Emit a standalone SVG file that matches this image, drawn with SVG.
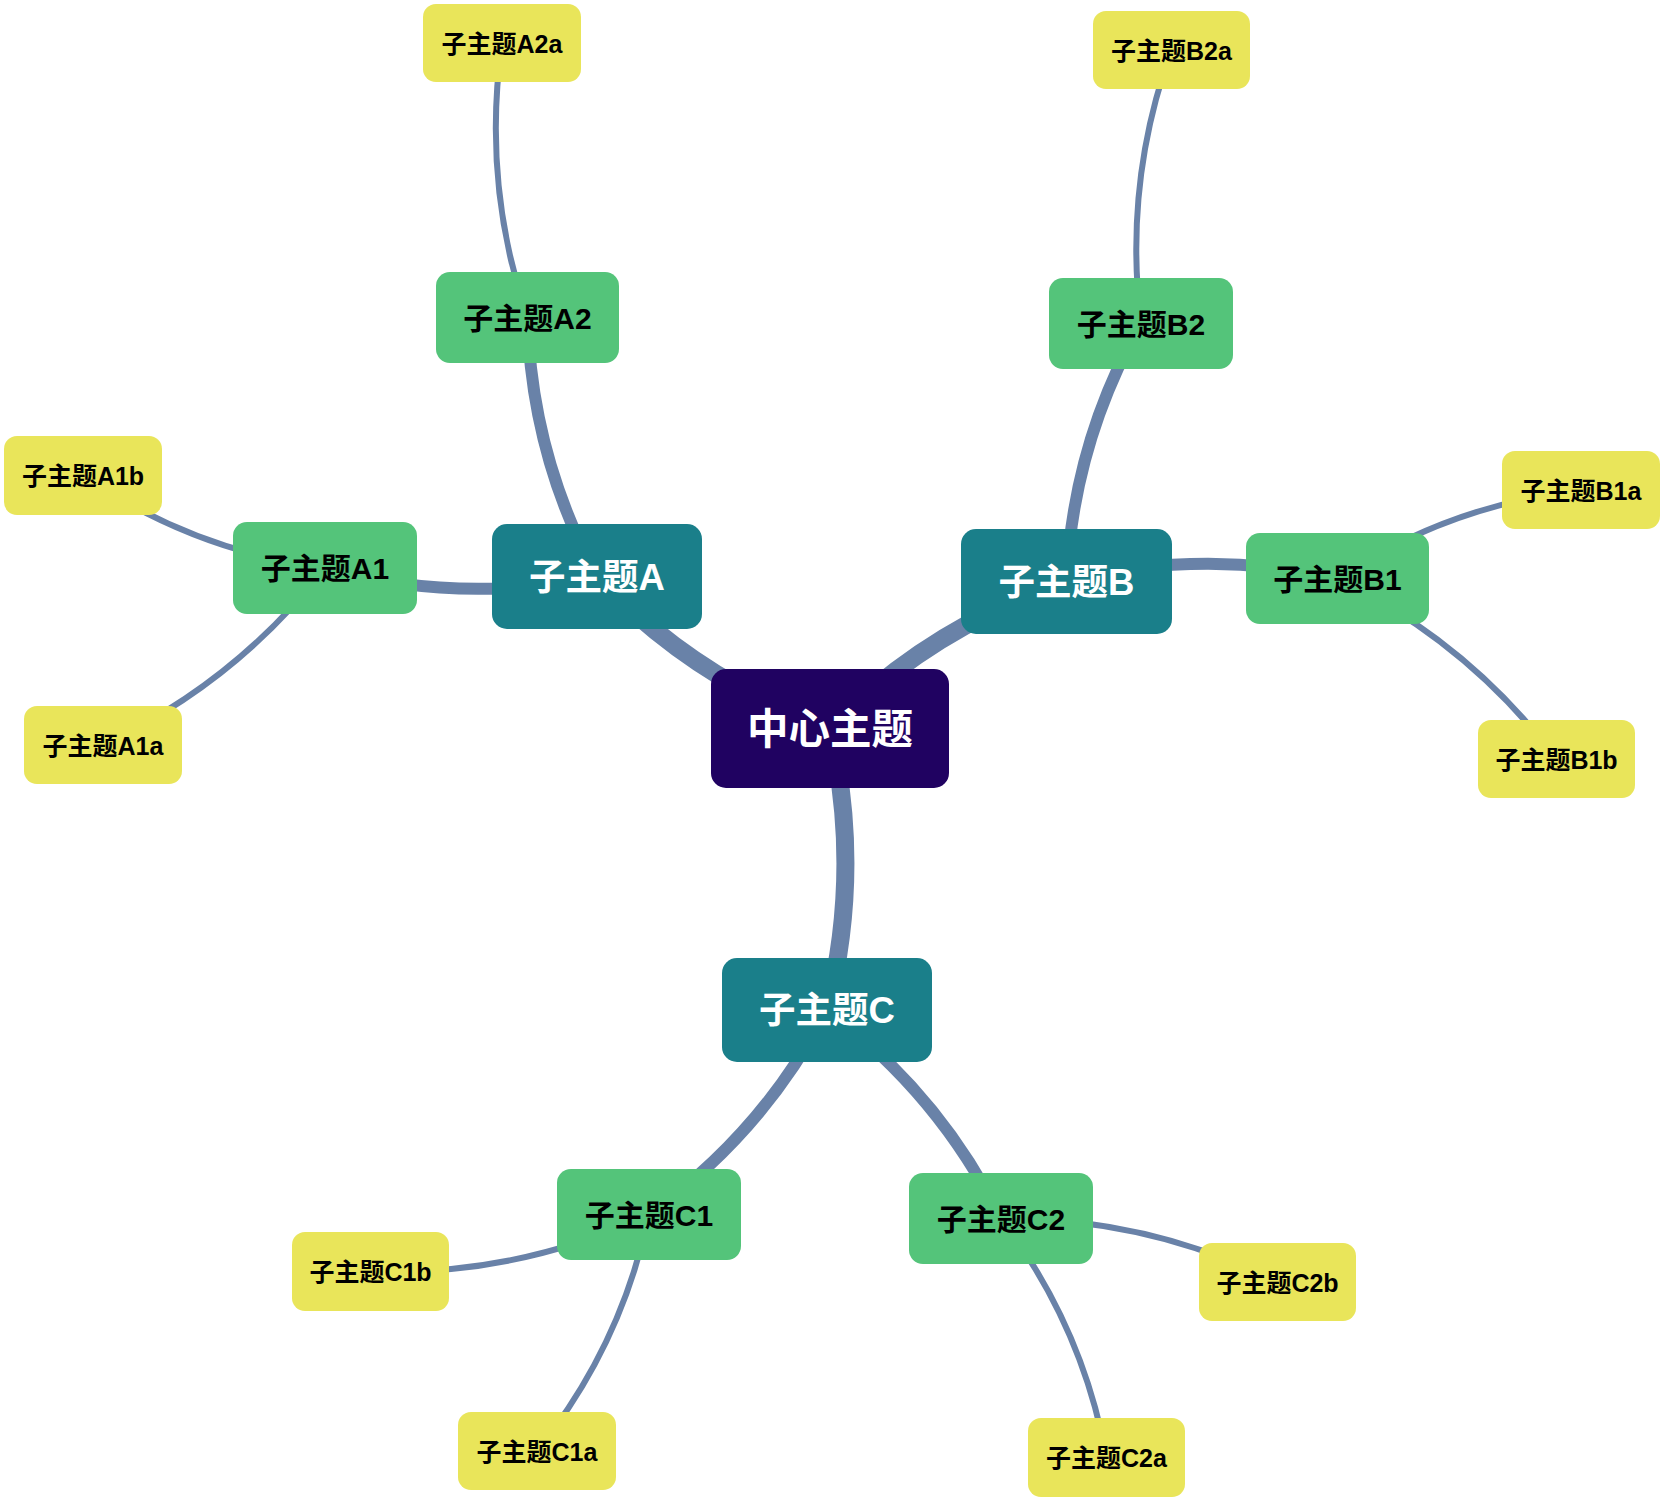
<svg xmlns="http://www.w3.org/2000/svg" width="1667" height="1502" viewBox="0 0 1667 1502">
<style>
  .edge { fill: none; stroke: #6982a8; stroke-linecap: butt; }
  .e0 { stroke-width: 18; }
  .e1 { stroke-width: 12; }
  .e2 { stroke-width: 6; }
  .n0 rect { fill: #200261; }
  .n1 rect { fill: #1a7f8a; }
  .n2 rect { fill: #54c47a; }
  .n3 rect { fill: #e9e55a; }
  text { font-family: "Liberation Sans", "Noto Sans CJK SC", sans-serif; font-weight: bold; text-anchor: middle; dominant-baseline: central; }
  .n0 text { fill: #ffffff; font-size: 41.5px; }
  .n1 text { fill: #ffffff; font-size: 36.5px; }
  .n2 text { fill: #000000; font-size: 30px; }
  .n3 text { fill: #000000; font-size: 25px; }
</style>
<g id="connectors">
  <path class="edge e0" d="M830,728.5 Q695.3,680.5 597,576.5"/>
  <path class="edge e0" d="M830,728.5 Q930.6,626.6 1066.5,581.5"/>
  <path class="edge e0" d="M830,728.5 Q862.3,869.6 827,1010"/>
  <path class="edge e1" d="M597,576.5 Q460,604.9 325,568"/>
  <path class="edge e1" d="M597,576.5 Q531.2,455.3 527.5,317.5"/>
  <path class="edge e1" d="M1066.5,581.5 Q1201.6,547.5 1337.5,578.5"/>
  <path class="edge e1" d="M1066.5,581.5 Q1072.8,443.6 1141,323.5"/>
  <path class="edge e1" d="M827,1010 Q762.5,1133.6 649,1214.5"/>
  <path class="edge e1" d="M827,1010 Q939,1093.4 1001,1218.5"/>
  <path class="edge e2" d="M325,568 Q235.2,683.1 103,745"/>
  <path class="edge e2" d="M325,568 Q192.9,550.8 83,475.5"/>
  <path class="edge e2" d="M527.5,317.5 Q481.8,183.3 502,43"/>
  <path class="edge e2" d="M1337.5,578.5 Q1448.6,505 1581,490"/>
  <path class="edge e2" d="M1337.5,578.5 Q1468.7,642.5 1556.5,759"/>
  <path class="edge e2" d="M1141,323.5 Q1123.4,183.1 1171.5,50"/>
  <path class="edge e2" d="M649,1214.5 Q621.4,1346.2 537,1451"/>
  <path class="edge e2" d="M649,1214.5 Q516.6,1276.4 370.5,1271.5"/>
  <path class="edge e2" d="M1001,1218.5 Q1082.4,1325.3 1106.5,1457.5"/>
  <path class="edge e2" d="M1001,1218.5 Q1146.9,1217.1 1277.5,1282"/>
</g>
<g id="center" class="n0"><rect x="711" y="669" width="238" height="119" rx="15"/><text x="830" y="729">中心主题</text></g>
<g id="topicA" class="n1"><rect x="492" y="524" width="210" height="105" rx="15"/><text x="597" y="577">子主题A</text></g>
<g id="topicB" class="n1"><rect x="961" y="529" width="211" height="105" rx="15"/><text x="1066.5" y="582">子主题B</text></g>
<g id="topicC" class="n1"><rect x="722" y="958" width="210" height="104" rx="15"/><text x="827" y="1010.5">子主题C</text></g>
<g id="topicA1" class="n2"><rect x="233" y="522" width="184" height="92" rx="14"/><text x="325" y="568.5">子主题A1</text></g>
<g id="topicA2" class="n2"><rect x="436" y="272" width="183" height="91" rx="14"/><text x="527.5" y="318">子主题A2</text></g>
<g id="topicB1" class="n2"><rect x="1246" y="533" width="183" height="91" rx="14"/><text x="1337.5" y="579">子主题B1</text></g>
<g id="topicB2" class="n2"><rect x="1049" y="278" width="184" height="91" rx="14"/><text x="1141" y="324">子主题B2</text></g>
<g id="topicC1" class="n2"><rect x="557" y="1169" width="184" height="91" rx="14"/><text x="649" y="1215">子主题C1</text></g>
<g id="topicC2" class="n2"><rect x="909" y="1173" width="184" height="91" rx="14"/><text x="1001" y="1219">子主题C2</text></g>
<g id="topicA1a" class="n3"><rect x="24" y="706" width="158" height="78" rx="13"/><text x="103" y="745.5">子主题A1a</text></g>
<g id="topicA1b" class="n3"><rect x="4" y="436" width="158" height="79" rx="13"/><text x="83" y="476">子主题A1b</text></g>
<g id="topicA2a" class="n3"><rect x="423" y="4" width="158" height="78" rx="13"/><text x="502" y="43.5">子主题A2a</text></g>
<g id="topicB1a" class="n3"><rect x="1502" y="451" width="158" height="78" rx="13"/><text x="1581" y="490.5">子主题B1a</text></g>
<g id="topicB1b" class="n3"><rect x="1478" y="720" width="157" height="78" rx="13"/><text x="1556.5" y="759.5">子主题B1b</text></g>
<g id="topicB2a" class="n3"><rect x="1093" y="11" width="157" height="78" rx="13"/><text x="1171.5" y="50.5">子主题B2a</text></g>
<g id="topicC1a" class="n3"><rect x="458" y="1412" width="158" height="78" rx="13"/><text x="537" y="1451.5">子主题C1a</text></g>
<g id="topicC1b" class="n3"><rect x="292" y="1232" width="157" height="79" rx="13"/><text x="370.5" y="1272">子主题C1b</text></g>
<g id="topicC2a" class="n3"><rect x="1028" y="1418" width="157" height="79" rx="13"/><text x="1106.5" y="1458">子主题C2a</text></g>
<g id="topicC2b" class="n3"><rect x="1199" y="1243" width="157" height="78" rx="13"/><text x="1277.5" y="1282.5">子主题C2b</text></g>
</svg>
